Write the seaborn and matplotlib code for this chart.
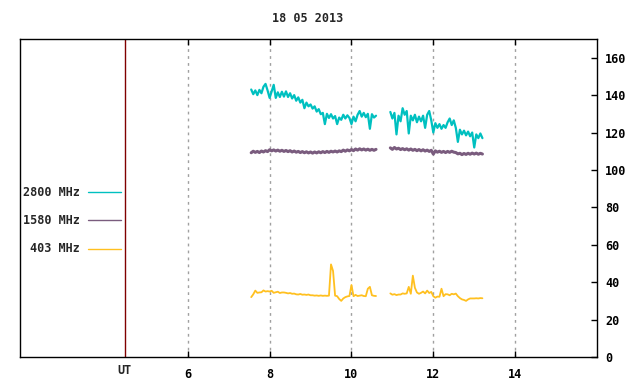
import matplotlib
matplotlib.use("Agg")
import matplotlib.pyplot as plt
from matplotlib.lines import Line2D
import numpy as np
import pandas as pd
import seaborn as sns


# Data (UT hours, flux), two observing blocks per day

ut_1 = [7.55, 7.60, 7.65, 7.70, 7.75, 7.80, 7.85, 7.90, 7.95,
        8.00, 8.05, 8.10, 8.15, 8.20, 8.25, 8.30, 8.35, 8.40, 8.45,
        8.50, 8.55, 8.60, 8.65, 8.70, 8.75, 8.80, 8.85, 8.90, 8.95,
        9.00, 9.05, 9.10, 9.15, 9.20, 9.25, 9.30, 9.35, 9.40, 9.45,
        9.50, 9.55, 9.60, 9.65, 9.70, 9.75, 9.80, 9.85, 9.90, 9.95,
        10.00, 10.05, 10.10, 10.15, 10.20, 10.25, 10.30, 10.35, 10.40,
        10.45, 10.50, 10.55, 10.60]
ut_2 = [10.95,
        11.00, 11.05, 11.10, 11.15, 11.20, 11.25, 11.30, 11.35, 11.40,
        11.45, 11.50, 11.55, 11.60, 11.65, 11.70, 11.75, 11.80, 11.85,
        11.90, 11.95,
        12.00, 12.05, 12.10, 12.15, 12.20, 12.25, 12.30, 12.35, 12.40,
        12.45, 12.50, 12.55, 12.60, 12.65, 12.70, 12.75, 12.80, 12.85,
        12.90, 12.95,
        13.00, 13.05, 13.10, 13.15, 13.20]

f2800_1 = [143.0, 140.5, 142.5, 140.0, 142.8, 141.0, 144.5, 146.0, 142.5,
           138.5, 142.0, 145.5, 138.5, 141.5, 139.0, 141.8, 139.2, 142.0, 139.0,
           141.0, 138.2, 140.0, 137.0, 138.8, 136.0, 137.5, 133.0, 136.0, 134.0,
           135.0, 132.8, 134.0, 131.2, 132.5, 129.8, 130.5, 124.5, 130.0, 127.8,
           129.8, 127.5, 128.8, 124.5, 128.0, 126.8, 129.5, 127.5, 129.2, 127.8,
           124.5, 128.5, 126.0, 129.5, 131.5, 128.5, 130.5, 128.2, 130.0,
           122.0, 129.8, 128.0, 129.0]
f2800_2 = [131.0,
           127.5, 130.5, 119.0, 129.0, 126.0, 133.0, 129.5, 131.5, 119.5,
           129.0, 126.5, 129.5, 125.5, 128.5, 126.0, 129.0, 122.5, 129.5,
           131.5, 126.5,
           120.0, 125.0, 122.5, 124.5, 122.0, 124.0, 122.5, 125.5, 127.5,
           124.0, 126.5, 122.5, 115.0, 121.5, 119.0, 121.0, 118.5, 120.5,
           118.0, 120.0,
           112.0, 119.0, 117.0, 119.5, 117.0]

f1580_1 = [109.2, 110.0, 109.4, 109.9, 109.3, 110.1, 109.6, 110.3, 109.8,
           110.8, 110.2, 110.7, 110.1, 110.6, 110.0, 110.5, 109.9, 110.4, 109.8,
           110.3, 109.6, 110.1, 109.5, 109.9, 109.3, 109.8, 109.2, 109.7, 109.1,
           109.6, 109.0, 109.6, 109.1, 109.7, 109.2, 109.8, 109.3, 109.9, 109.4,
           110.0, 109.6, 110.1, 109.6, 110.2, 109.8, 110.6, 110.0, 110.7, 110.2,
           110.9, 110.3, 111.2, 110.6, 111.3, 110.7, 111.2, 110.6, 111.1,
           110.5, 111.0, 110.5, 111.0]
f1580_2 = [111.8,
           111.0, 112.0, 111.2, 111.6, 110.9, 111.4, 110.8, 111.3, 110.6,
           111.2, 110.5, 111.0, 110.3, 110.9, 110.2, 110.8, 110.1, 110.6,
           109.9, 110.5,
           108.5, 110.2, 109.5, 110.0, 109.4, 109.9, 109.3, 109.9, 109.4,
           110.0, 109.5, 109.3, 108.6, 108.9, 108.2, 108.8, 108.3, 108.9,
           108.4, 109.0,
           108.5, 109.0, 108.4, 108.9, 108.5]

f403_1 = [32.0, 33.5, 35.5, 34.3, 34.5, 34.6, 35.6, 35.0, 35.2,
          35.0, 35.4, 34.3, 34.6, 34.9, 34.2, 34.5, 34.5, 34.3, 34.0,
          34.2, 33.8, 33.9, 33.5, 33.4, 33.7, 33.3, 33.4, 33.2, 33.4,
          33.0, 33.0, 32.8, 32.9, 32.7, 32.9, 32.7, 32.8, 32.7, 32.8,
          49.5, 46.0, 32.8, 32.5, 31.0, 30.0, 31.3, 32.0, 32.4, 32.6,
          38.5, 32.5, 33.2, 32.6, 32.8, 33.0, 32.6, 32.5, 36.5,
          37.5, 33.0, 32.7, 32.6]
f403_2 = [34.0,
          33.3, 33.6, 33.1, 33.4, 33.4, 34.0, 33.8, 34.0, 37.5,
          33.8, 43.5, 37.0, 34.5, 33.8, 34.3, 35.0, 34.0, 35.5,
          34.2, 34.8,
          32.5, 31.7, 32.3, 32.2, 36.5, 32.5, 33.6, 33.5, 33.0,
          33.8, 33.5, 33.9, 32.5, 31.5, 30.8, 30.5, 30.0, 30.8,
          31.3, 31.3,
          31.3, 31.4, 31.3, 31.5, 31.4]

freqs = ["2800 MHz", "1580 MHz", "403 MHz"]
colors = ["#00c0c0", "#7a5c7e", "#ffc020"]
ut_marker = 4.46
xticks = [6, 8, 10, 12, 14]
yticks = [0, 20, 40, 60, 80, 100, 120, 140, 160]

# Long table for seaborn
rows = []
for name, s1, s2 in [(freqs[0], f2800_1, f2800_2),
                     (freqs[1], f1580_1, f1580_2),
                     (freqs[2], f403_1, f403_2)]:
    rows.append(pd.DataFrame({"ut": ut_1, "flux": s1, "seg": 1, "freq": name}))
    rows.append(pd.DataFrame({"ut": ut_2, "flux": s2, "seg": 2, "freq": name}))
df = pd.concat(rows, ignore_index=True)

# Plot
sns.set_style("white")
plt.rcParams["font.family"] = ["DejaVu Sans Mono"]
plt.rcParams["font.weight"] = "bold"
fs = 8.5

fig = plt.figure(figsize=(6.4, 3.84), dpi=100)
ax = fig.add_axes([20 / 640, 1 - 357 / 384, 577 / 640, 318 / 384])

widths = [1.6, 2.2, 1.3]
for name, col, w in zip(freqs, colors, widths):
    sns.lineplot(data=df[df["freq"] == name], x="ut", y="flux", units="seg",
                 estimator=None, color=col, lw=w, ax=ax)

ax.set_xlim(1.9, 16)
ax.set_ylim(0, 170)
ax.set_xlabel("")
ax.set_ylabel("")

for x in xticks:
    ax.axvline(x, color="#a0a0a0", lw=1, ls=(0, (2, 3)), zorder=0)
ax.axvline(ut_marker, color="#800000", lw=1, zorder=1)

ax.set_xticks(xticks)
ax.set_xticklabels([str(v) for v in xticks], fontsize=fs, fontweight="bold")
ax.set_yticks(yticks)
ax.set_yticklabels([str(v) for v in yticks], fontsize=fs, fontweight="bold")
ax.tick_params(axis="x", direction="in", length=4, width=1, top=True,
               bottom=True, pad=8, colors="black")
ax.tick_params(axis="y", direction="in", length=4, width=1, left=False,
               right=True, labelleft=False, labelright=True, pad=6,
               colors="black")
ax.text(ut_marker, -3.5, "UT", ha="center", va="top", fontsize=fs,
        fontweight="bold", transform=ax.transData, clip_on=False)

for sp in ax.spines.values():
    sp.set_color("black")
    sp.set_linewidth(1)

fig.text(308 / 640, 1 - 18 / 384, "18 05 2013", ha="center", va="center",
         fontsize=fs, fontweight="bold")

# Legend drawn by hand on the left, gnuplot style
for name, col, ypx in zip(freqs, colors, [192, 220, 249]):
    yy = 1 - ypx / 384
    fig.text(80 / 640, yy, name, ha="right", va="center", fontsize=fs,
             fontweight="bold")
    fig.add_artist(Line2D([88 / 640, 121 / 640], [yy, yy], color=col, lw=1))

fig.savefig("out.png", dpi=100)
